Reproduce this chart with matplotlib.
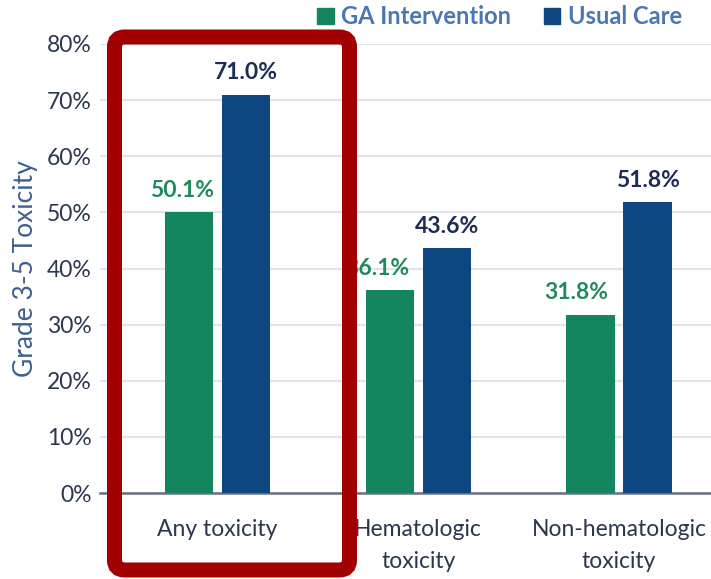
import numpy as np
import matplotlib.pyplot as plt
from matplotlib.patches import FancyBboxPatch, Patch
from matplotlib.transforms import IdentityTransform

categories = ['Any toxicity', 'Hematologic\ntoxicity', 'Non-hematologic\ntoxicity']
ga_values = [50.1, 36.1, 31.8]
usual_values = [71.0, 43.6, 51.8]
series_names = ['GA Intervention', 'Usual Care']

green = '#13865f'
blue = '#0d4680'
green_txt = '#1f8a5c'
blue_txt = '#1c2c55'
tick_col = '#2b374d'

plt.rcParams['font.family'] = ['Lato', 'DejaVu Sans']

fig = plt.figure(figsize=(7.11, 5.79), dpi=100)
ax = fig.add_axes([100 / 711, 86 / 579, 611 / 711, 449 / 579])

x = np.arange(len(categories))
w = 0.24
off = 0.142
b1 = ax.bar(x - off, ga_values, w, color=green, zorder=3)
b2 = ax.bar(x + off, usual_values, w, color=blue, zorder=3)

# value labels above the bars (green ones sit a little to the left)
ga_shift = [-5, -9, -10]
for bar, v, dx in zip(b1, ga_values, ga_shift):
    ax.annotate(f'{v:.1f}%', (bar.get_x() + bar.get_width() / 2, v),
                xytext=(dx, 8), textcoords='offset points',
                ha='center', va='bottom', color=green_txt,
                fontsize=16.5, fontweight='bold')
for bar, v in zip(b2, usual_values):
    ax.annotate(f'{v:.1f}%', (bar.get_x() + bar.get_width() / 2, v),
                xytext=(0, 8), textcoords='offset points',
                ha='center', va='bottom', color=blue_txt,
                fontsize=16.5, fontweight='bold')

ax.set_xlim(-0.585, 2.458)
ax.set_ylim(0, 80)
ax.set_yticks(range(0, 81, 10))
ax.set_yticklabels([f'{t}%' for t in range(0, 81, 10)])
ax.set_xticks(x)
ax.set_xticklabels(categories, linespacing=1.6)
ax.tick_params(axis='y', length=0, pad=6, labelsize=16.5, labelcolor=tick_col)
ax.tick_params(axis='x', length=0, pad=19, labelsize=16.5, labelcolor=tick_col)
ax.yaxis.grid(True, color='#dfe4ea', linewidth=1.5, zorder=0)
ax.set_axisbelow(True)

for s in ['top', 'right', 'left']:
    ax.spines[s].set_visible(False)
ax.spines['bottom'].set_color('#6a7080')
ax.spines['bottom'].set_linewidth(1.8)

ax.set_ylabel('Grade 3-5 Toxicity', fontsize=19, color='#3e5f8c', labelpad=6)

handles = [Patch(color=green), Patch(color=blue)]
fig.legend(handles, series_names, loc='upper left', bbox_to_anchor=(296 / 711, 1.028),
           ncol=2, frameon=False, handlelength=0.7, handleheight=0.7,
           handletextpad=0.3, columnspacing=1.4, labelcolor='#4a76b5',
           prop={'size': 17, 'weight': 'bold'})

# highlight box around the first group
box = FancyBboxPatch((114.5, 9), 235, 533, boxstyle='round,pad=0,rounding_size=10',
                     transform=IdentityTransform(), fill=False,
                     edgecolor='#a00000', linewidth=10.8, zorder=10)
fig.add_artist(box)

fig.savefig('out.png', dpi=100)
